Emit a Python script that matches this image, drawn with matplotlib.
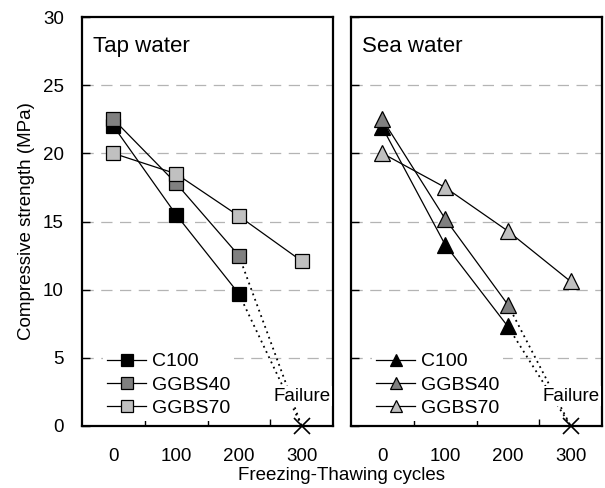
import matplotlib
matplotlib.use('Agg')
import matplotlib.pyplot as plt
import numpy as np

plt.rcParams['font.family'] = ['Liberation Sans', 'DejaVu Sans']

# data
cycles = [0, 100, 200, 300]
mixes = ['C100', 'GGBS40', 'GGBS70']
fill_l = ['#000000', '#808080', '#c0c0c0']

tap_c100 = [22.0, 15.5, 9.7]
tap_ggbs40 = [22.5, 17.8, 12.5]
tap_ggbs70 = [20.0, 18.5, 15.4, 12.1]

sea_c100 = [21.9, 13.3, 7.3]
sea_ggbs40 = [22.5, 15.2, 8.9]
sea_ggbs70 = [20.0, 17.5, 14.3, 10.6]

failure_x = 300
failure_y = 0

panels = [
    ('Tap water', 's', [tap_c100, tap_ggbs40, tap_ggbs70]),
    ('Sea water', '^', [sea_c100, sea_ggbs40, sea_ggbs70]),
]

fig = plt.figure(figsize=(6.05, 4.88), dpi=100)
ax1 = fig.add_axes([82/605, 1-426/488, 251/605, 409/488])
ax2 = fig.add_axes([351/605, 1-426/488, 251/605, 409/488])

for ax, (title, mk, series_l) in zip([ax1, ax2], panels):
    ms = 10.5 if mk == 's' else 11
    for name, col, ys in zip(mixes, fill_l, series_l):
        xs = cycles[:len(ys)]
        ax.plot(xs, ys, '-', color='black', lw=0.9, marker=mk, ms=ms,
                mfc=col, mec='black', mew=0.9, label=name, zorder=4)
        if len(ys) < len(cycles):
            # broken specimen: dotted line to failure
            ax.plot([xs[-1], failure_x], [ys[-1], failure_y],
                    color='black', lw=1.3, ls=(0, (1, 2.2)), zorder=2)
    ax.plot(failure_x, failure_y, 'x', color='black', ms=11, mew=1.2,
            clip_on=False, zorder=6)
    ax.text(failure_x, 2.2, 'Failure', ha='center', va='center',
            fontsize=13.5, zorder=5,
            bbox=dict(facecolor='white', edgecolor='none', pad=1))
    ax.text(-33, 27.8, title, ha='left', va='center', fontsize=16)

    ax.set_xlim(-50, 350)
    ax.set_ylim(0, 30)
    ax.set_yticks(np.arange(0, 31, 5))
    ax.set_xticks([50, 150, 250])
    ax.set_xticklabels([])
    ax.set_xticks(cycles, minor=True)
    ax.set_xticklabels([str(c) for c in cycles], minor=True, fontsize=13.5)
    ax.tick_params(axis='x', which='major', direction='in', length=5,
                   width=1)
    ax.tick_params(axis='x', which='minor', length=0, pad=16)
    ax.tick_params(axis='y', direction='in', length=6, width=1,
                   labelsize=13.5, pad=13)
    for yg in range(5, 30, 5):
        ax.axhline(yg, color='#b4b4b4', lw=0.9, ls=(0, (9, 6)), zorder=0)
    for sp in ax.spines.values():
        sp.set_linewidth(1.6)

    leg = ax.legend(loc='lower left', bbox_to_anchor=(0.085, 0.012),
                    frameon=True, facecolor='white', edgecolor='none',
                    framealpha=1, fontsize=14, handlelength=2.0,
                    handletextpad=0.3, labelspacing=0.3, borderpad=0.2,
                    markerscale=0.85, borderaxespad=0)
    leg.set_zorder(7)

ax2.set_yticklabels([])
ax1.set_ylabel('Compressive strength (MPa)', fontsize=13.5, labelpad=6)
fig.text(342/605, 1-476/488, 'Freezing-Thawing cycles', ha='center',
         va='center', fontsize=13.5)

fig.savefig('out.png', dpi=100)
